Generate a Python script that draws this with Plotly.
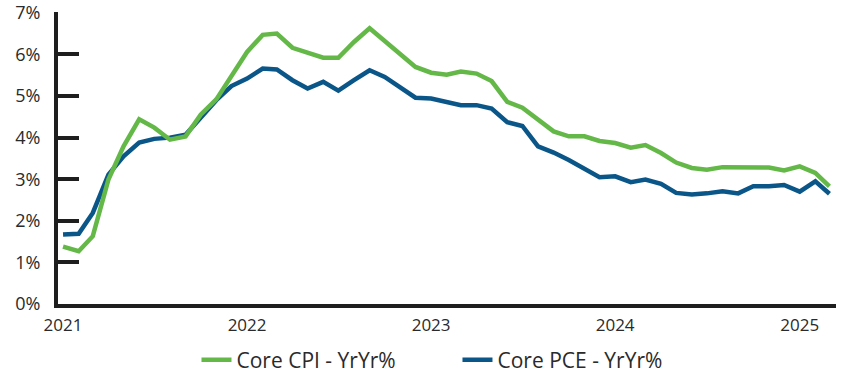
import pandas as pd
import plotly.graph_objects as go

months = pd.date_range("2021-01-01", periods=51, freq="MS")

core_cpi = [1.38, 1.27, 1.63, 2.99, 3.79, 4.44, 4.24, 3.95, 4.03, 4.55, 4.92, 5.46,
            6.06, 6.47, 6.50, 6.16, 6.04, 5.92, 5.92, 6.30, 6.63, 6.32, 6.00, 5.70,
            5.56, 5.51, 5.59, 5.54, 5.36, 4.86, 4.72, 4.43, 4.15, 4.03, 4.03, 3.92,
            3.87, 3.76, 3.82, 3.63, 3.40, 3.27, 3.23, 3.29, 3.29, 3.29, 3.28, 3.21,
            3.31, 3.15, 2.83]

core_pce = [1.67, 1.69, 2.19, 3.11, 3.55, 3.88, 3.97, 4.00, 4.07, 4.47, 4.90, 5.24,
            5.42, 5.66, 5.64, 5.38, 5.18, 5.34, 5.13, 5.38, 5.62, 5.46, 5.21, 4.96,
            4.94, 4.86, 4.78, 4.78, 4.70, 4.37, 4.28, 3.79, 3.64, 3.46, 3.25, 3.05,
            3.07, 2.93, 2.99, 2.89, 2.67, 2.63, 2.66, 2.71, 2.66, 2.83, 2.83, 2.86,
            2.70, 2.95, 2.65]

year_ticks = ["2021-01-01", "2022-01-01", "2023-01-01", "2024-01-01", "2025-01-01"]
year_labels = ["2021", "2022", "2023", "2024", "2025"]
y_ticks = [0, 1, 2, 3, 4, 5, 6, 7]
y_labels = ["0%", "1%", "2%", "3%", "4%", "5%", "6%", "7%"]

GREEN = "#64b848"
BLUE = "#0b5688"
AXIS = "#1e1e1e"
TEXT = "#2a2a2a"

fig = go.Figure()
fig.add_trace(go.Scatter(x=months, y=core_pce, mode="lines", name="Core PCE - YrYr%",
                         line=dict(color=BLUE, width=4.5)))
fig.add_trace(go.Scatter(x=months, y=core_cpi, mode="lines", name="Core CPI - YrYr%",
                         line=dict(color=GREEN, width=4.5)))

fig.update_layout(
    width=845, height=382,
    margin=dict(l=58, r=9, t=12, b=78, autoexpand=False),
    paper_bgcolor="white", plot_bgcolor="white",
    font=dict(family="Open Sans", color=TEXT, size=17),
    showlegend=True,
    legend=dict(orientation="h", traceorder="reversed",
                x=0.178, xanchor="left", xref="paper",
                y=0.0576, yanchor="middle", yref="container",
                font=dict(size=21, color=TEXT),
                bgcolor="rgba(0,0,0,0)", itemwidth=30,
                entrywidth=216),
    xaxis=dict(range=["2020-12-22", "2025-03-14"], tickvals=year_ticks, ticktext=year_labels,
               showgrid=False, zeroline=False, showline=True, linecolor=AXIS, linewidth=4,
               ticks="", ticklabelstandoff=3, tickfont=dict(size=17), automargin=False,
               ticklabeloverflow="allow"),
    yaxis=dict(range=[0, 7.02], tickvals=y_ticks, ticktext=y_labels,
               showgrid=False, zeroline=False, showline=True, linecolor=AXIS, linewidth=4,
               ticks="inside", ticklen=21, tickwidth=4, tickcolor=AXIS,
               ticklabelstandoff=10, tickfont=dict(size=18), automargin=False,
               ticklabeloverflow="allow"),
)

fig.write_html("out.html", config={"displayModeBar": False},
               post_script="document.body.style.margin='0px';")
